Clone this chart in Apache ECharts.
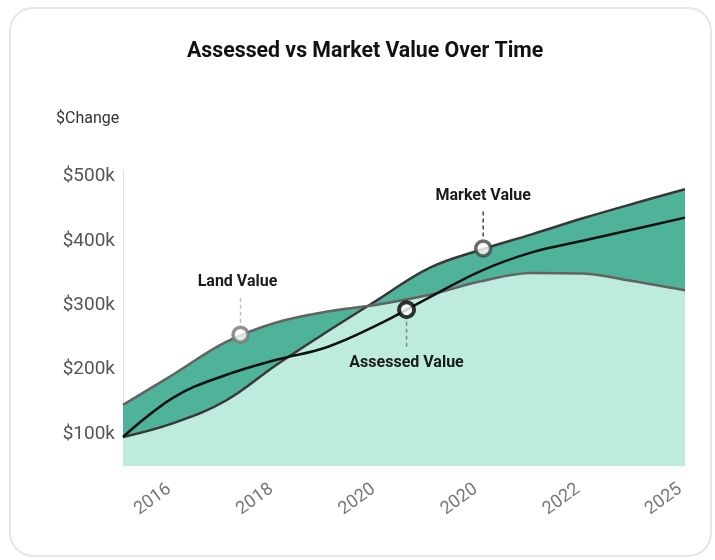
<!DOCTYPE html>
<html>
<head>
<meta charset="utf-8">
<title>Assessed vs Market Value Over Time</title>
<script src="https://cdn.jsdelivr.net/npm/echarts@6/dist/echarts.min.js"></script>
<style>
    html, body { margin: 0; padding: 0; background: #fff; }
    .card {
        position: absolute; left: 9px; top: 7px;
        width: 699px; height: 546px;
        border: 2px solid #e6e6e6; border-radius: 24px;
    }
    #chart { position: absolute; left: 0; top: 0; width: 715px; height: 560px; }
</style>
</head>
<body>
<div class="card"></div>
<div id="chart"></div>
<script>
    // x tick labels, shown on every second point
    const tickLabels = ['2016', '2018', '2020', '2020', '2022', '2025'];

    // values in $, one per point
    const landValue     = [145000, 193000, 242000, 273000, 290000, 301000, 316000, 337000, 350000, 349000, 337000, 323000];
    const marketValue   = [95000, 117000, 151000, 207000, 259000, 309000, 358000, 386000, 410000, 435000, 458000, 480000];
    const assessedValue = [95000, 157000, 191000, 215000, 235000, 270000, 312000, 353000, 382000, 400000, 418000, 436000];

    // highlighted points (x is the point position, y the value)
    const markNames = ['Land Value', 'Assessed Value', 'Market Value'];
    const markX = [2.3, 5.55, 7.05];
    const markY = [254000, 293000, 388000];

    const TEAL = '#4fb39a';
    const MINT = '#bdecdf';

    const pairs = arr => arr.map((v, i) => [i, v]);

    // where land and market cross, so the band between them can switch sides
    let cross = 0;
    for (let i = 1; i < landValue.length; i++) {
        const d0 = landValue[i - 1] - marketValue[i - 1];
        const d1 = landValue[i] - marketValue[i];
        if (d0 > 0 && d1 <= 0) {
            cross = (i - 1 + d0 / (d0 - d1)) / (landValue.length - 1);
            break;
        }
    }
    const split = (a, b) => new echarts.graphic.LinearGradient(0, 0, 1, 0, [
        {offset: 0, color: a}, {offset: cross, color: a},
        {offset: cross, color: b}, {offset: 1, color: b}
    ]);

    const markStroke = ['#777777', '#000000', '#444444'];
    const markDash = ['#bdbdbd', '#888888', '#444444'];
    const markDir = [-1, 1, -1];

    const chart = echarts.init(document.getElementById('chart'));
    chart.setOption({
        animation: false,
        title: [{
            text: 'Assessed vs Market Value Over Time',
            left: 187,
            top: 41,
            padding: 0,
            textStyle: {fontFamily: 'Roboto', fontSize: 21.3, fontWeight: 'bold', color: '#111'}
        }, {
            text: '$Change',
            left: 56,
            top: 111,
            padding: 0,
            textStyle: {fontFamily: 'Roboto', fontSize: 16, fontWeight: 'normal', color: '#333'}
        }],
        grid: {left: 123, right: 30, top: 170, bottom: 94},
        xAxis: {
            type: 'value',
            min: 0,
            max: 11,
            interval: 1,
            axisLine: {show: false},
            axisTick: {show: false},
            splitLine: {show: false},
            axisLabel: {
                rotate: 36,
                margin: 18,
                padding: [0, 6, 0, 0],
                color: '#777',
                fontFamily: 'Roboto',
                fontSize: 18,
                formatter: v => (v % 2 === 1 ? tickLabels[(v - 1) / 2] : '')
            }
        },
        yAxis: {
            type: 'value',
            min: 50000,
            max: 510000,
            interval: 50000,
            axisLine: {show: true, lineStyle: {color: '#e2e2e2', width: 1}},
            axisTick: {show: false},
            splitLine: {show: false},
            axisLabel: {
                margin: 8,
                padding: [4, 0, 0, 0],
                color: '#555',
                fontFamily: 'Roboto',
                fontSize: 19,
                formatter: v => (v % 100000 === 0 ? '$' + v / 1000 + 'k' : '')
            }
        },
        series: [{
            name: 'Land base',
            type: 'line',
            smooth: 0.35,
            showSymbol: false,
            silent: true,
            lineStyle: {width: 0},
            areaStyle: {color: TEAL, opacity: 1},
            data: pairs(landValue)
        }, {
            name: 'Market Value',
            type: 'line',
            smooth: 0.4,
            showSymbol: false,
            silent: true,
            lineStyle: {color: '#383838', width: 2.5},
            areaStyle: {color: split(MINT, TEAL), opacity: 1},
            data: pairs(marketValue)
        }, {
            name: 'Land Value',
            type: 'line',
            smooth: 0.35,
            showSymbol: false,
            silent: true,
            lineStyle: {color: '#626262', width: 2.5},
            areaStyle: {color: split('rgba(0,0,0,0)', MINT), opacity: 1},
            data: pairs(landValue)
        }, {
            name: 'Assessed Value',
            type: 'line',
            smooth: 0.4,
            showSymbol: false,
            silent: true,
            lineStyle: {color: '#111', width: 2.5},
            data: pairs(assessedValue)
        }, {
            name: 'marks',
            type: 'scatter',
            symbol: 'circle',
            symbolSize: 15,
            silent: true,
            z: 5,
            data: markX.map((x, i) => ({
                value: [x, markY[i]],
                itemStyle: {color: '#fff', borderColor: markStroke[i], borderWidth: i === 1 ? 4 : 3.5}
            }))
        }]
    });

    // leader lines and labels for the highlighted points
    const graphics = [];
    markX.forEach((x, i) => {
        const p = chart.convertToPixel({gridIndex: 0}, [x, markY[i]]);
        const d = markDir[i];
        graphics.push({
            type: 'line',
            silent: true,
            z: 100,
            shape: {x1: p[0], y1: p[1] + d * 12, x2: p[0], y2: p[1] + d * 38},
            style: {stroke: markDash[i], lineWidth: 1.5, lineDash: [4, 3]}
        });
        graphics.push({
            type: 'text',
            silent: true,
            z: 100,
            x: p[0] - (i === 0 ? 3 : 0),
            y: p[1] + d * 53,
            style: {
                text: markNames[i],
                align: 'center',
                verticalAlign: 'middle',
                font: 'bold 16px Roboto',
                fill: '#1a1a1a'
            }
        });
    });
    chart.setOption({graphic: graphics});
</script>
</body>
</html>
